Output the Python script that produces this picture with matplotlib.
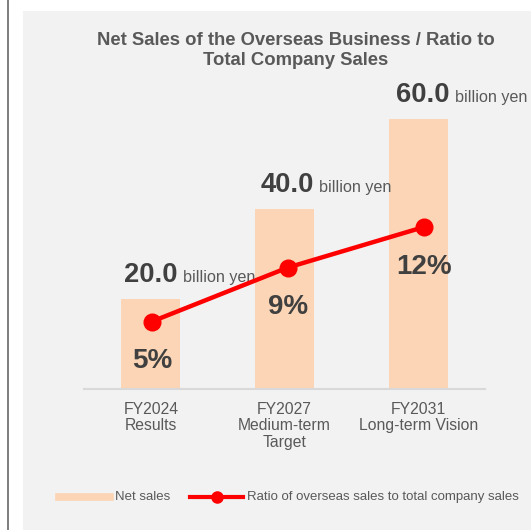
import matplotlib.pyplot as plt
from matplotlib.patches import Rectangle

plt.rcParams['font.family'] = ['Liberation Sans', 'DejaVu Sans']

categories = ['FY2024\nResults', 'FY2027\nMedium-term\nTarget', 'FY2031\nLong-term Vision']
net_sales = [20.0, 40.0, 60.0]          # billion yen
overseas_ratio = [5, 9, 12]             # % of total company sales

W, H = 531, 530
fig = plt.figure(figsize=(W / 100, H / 100), dpi=100)
fig.patch.set_facecolor('white')

def px_box(left, top, right, bottom):
    return [left / W, 1 - bottom / H, (right - left) / W, (bottom - top) / H]

# panel background and left rule
fig.patches.append(Rectangle((23 / W, 0), 1 - 23 / W, 1 - 11 / H, transform=fig.transFigure,
                             facecolor='#f2f2f2', edgecolor='none', zorder=-5))
fig.patches.append(Rectangle((7 / W, 0), 2 / W, 1, transform=fig.transFigure,
                             facecolor='#808080', edgecolor='none', zorder=-5))

fig.text(295.5 / W, 1 - 65 / H, 'Net Sales of the Overseas Business / Ratio to\nTotal Company Sales',
         ha='center', va='baseline', fontsize=13.3, fontweight='bold', color='#595959',
         linespacing=1.2)

bar_color = '#fbd5b5'
ax = fig.add_axes(px_box(84, 51.5, 485, 389))
ax.set_facecolor('none')
x = list(range(len(categories)))
ax.bar(x, net_sales, width=0.44, color=bar_color, zorder=2)
ax.set_xlim(-0.5, 2.5)
ax.set_ylim(0, 75)
for s in ['top', 'right', 'left']:
    ax.spines[s].set_visible(False)
ax.spines['bottom'].set_color('#d9d9d9')
ax.spines['bottom'].set_linewidth(1.5)
ax.set_yticks([])
ax.set_xticks(x)
ax.set_xticklabels(categories, fontsize=11.3, color='#595959', linespacing=1.15)
ax.tick_params(axis='x', length=0, pad=9)

# ratio line on its own (slightly wider) overlay axes
ax2 = fig.add_axes(px_box(84, 51.5, 492, 389))
ax2.set_facecolor('none')
ax2.axis('off')
ax2.set_xlim(-0.5, 2.5)
ax2.set_ylim(0, 25)
ax2.plot(x, overseas_ratio, color='#ff0000', linewidth=3.2, marker='o', markersize=12, zorder=3)
for xi, r in zip(x, overseas_ratio):
    ax2.annotate(f'{r}%', (xi, r), xytext=(0, -33.5), textcoords='offset points',
                 ha='center', va='baseline', fontsize=20, fontweight='bold', color='#404040')

# value labels above the bars
for xi, v in zip(x, net_sales):
    ax.annotate(f'{v:.1f}', (xi, v), xycoords=(ax2.transData, ax.transData),
                xytext=(18.7, 12), textcoords='offset points',
                ha='right', va='baseline', fontsize=19.7, fontweight='bold', color='#404040')
    ax.annotate('billion yen', (xi, v), xycoords=(ax2.transData, ax.transData),
                xytext=(22, 12), textcoords='offset points',
                ha='left', va='baseline', fontsize=11.6, color='#595959')

# legend
leg_y = 1 - 497 / H
fig.add_artist(plt.Line2D([59 / W, 110 / W], [leg_y, leg_y], color=bar_color, linewidth=5.5,
                          transform=fig.transFigure))
fig.text(115 / W, leg_y, 'Net sales', ha='left', va='center', fontsize=9.5, color='#595959')
fig.add_artist(plt.Line2D([190 / W, 243 / W], [leg_y, leg_y], color='#ff0000', linewidth=3,
                          transform=fig.transFigure))
fig.add_artist(plt.Line2D([217 / W], [leg_y], color='#ff0000', marker='o', markersize=8,
                          transform=fig.transFigure))
fig.text(247 / W, leg_y, 'Ratio of overseas sales to total company sales', ha='left', va='center',
         fontsize=9.5, color='#595959')

fig.savefig('out.png', dpi=100)
